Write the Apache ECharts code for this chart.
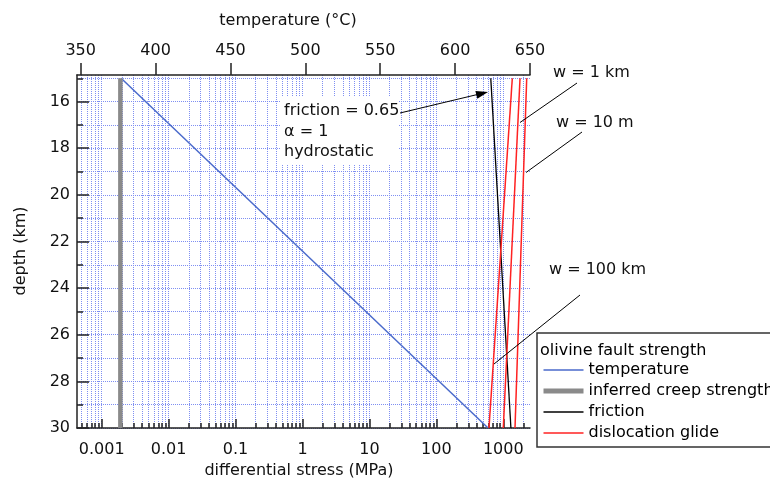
<!DOCTYPE html>
<html><head><meta charset="utf-8">
<script src="https://cdn.jsdelivr.net/npm/echarts@6/dist/echarts.min.js"></script>
<style>html,body{margin:0;padding:0;background:#fff}#c{width:770px;height:481px}</style>
</head><body><div id="c"></div>
<script>
// ---- data ----
const depthKm = [15, 30];
const temperatureC = [377, 622];
const creepStressMPa = [0.0019, 0.0019];
const frictionMPa = [650, 1300];
const glide100km = [1363, 611];
const glide1km = [1778, 1000];
const glide10m = [2238, 1496];

const stressMajorTicks = [0.001, 0.01, 0.1, 1, 10, 100, 1000];
const tempTicks = [350, 400, 450, 500, 550, 600, 650];
const depthLabels = [16, 18, 20, 22, 24, 26, 28, 30];
const depthTicks = [15, 16, 17, 18, 19, 20, 21, 22, 23, 24, 25, 26, 27, 28, 29, 30];
const stressMinorTicks = [];
for (let e = -4; e <= 3; e++) for (let m = 1; m <= 9; m++) stressMinorTicks.push(+(m * Math.pow(10, e)).toPrecision(3));

// ---- layout ----
const FONT = 'DejaVu Sans';
const GRID = {left: 77, right: 240, top: 75, bottom: 53};
const DEPTH_MIN = 14.858, DEPTH_MAX = 30;
const S_MIN = 4.275e-4, S_MAX = 2506;
const T_MIN = 347.53, T_MAX = 650;
const GRIDCOL = '#7f8ff2';
const AX = () => ({color: '#222', width: 1.5});
const BLUE = '#4a6acb', GRAY = '#8a8a8a', RED = '#ff2222';

const zip = (xs, ys) => xs.map((x, i) => [x, ys[i]]);
const fmtStress = v => String(+(+v).toPrecision(6));

const chart = echarts.init(document.getElementById('c'), null, {renderer: 'canvas'});
const txt = (text, x, y, extra) => Object.assign({
  type: 'text', x: x, y: y, z: 50,
  style: Object.assign({text: text, fontFamily: FONT, fontSize: 16, fill: '#111', textAlign: 'left', textVerticalAlign: 'middle'}, extra || {})
});
const seg = (x1, y1, x2, y2) => ({type: 'line', z: 50, shape: {x1, y1, x2, y2}, style: {stroke: '#000', lineWidth: 1}});

chart.setOption({
  animation: false,
  backgroundColor: '#fff',
  grid: [Object.assign({}, GRID), Object.assign({}, GRID)],
  xAxis: [
    {
      type: 'log', gridIndex: 0, position: 'bottom', min: S_MIN, max: S_MAX,
      axisLine: {show: false},
      axisTick: {show: false, customValues: stressMinorTicks, lineStyle: {color: GRIDCOL}},
      axisLabel: {show: false},
      splitLine: {show: true, lineStyle: {color: GRIDCOL, type: [1, 1], width: 1}}
    },
    {
      type: 'log', gridIndex: 0, position: 'bottom', min: S_MIN, max: S_MAX,
      axisLine: {show: true, lineStyle: AX()},
      axisTick: {show: true, inside: true, length: 9, customValues: stressMajorTicks, lineStyle: AX()},
      axisLabel: {show: true, customValues: stressMajorTicks, formatter: fmtStress, fontFamily: FONT, fontSize: 16, color: '#111', margin: 14},
      splitLine: {show: false}
    },
    {
      type: 'log', gridIndex: 0, position: 'bottom', min: S_MIN, max: S_MAX,
      axisLine: {show: false},
      axisTick: {show: true, inside: true, length: 5, customValues: stressMinorTicks, lineStyle: AX()},
      axisLabel: {show: false},
      splitLine: {show: false}
    },
    {
      type: 'value', gridIndex: 1, position: 'top', min: T_MIN, max: T_MAX,
      axisLine: {show: true, lineStyle: AX()},
      axisTick: {show: true, inside: false, length: 12, customValues: tempTicks, lineStyle: AX()},
      axisLabel: {show: true, customValues: tempTicks, fontFamily: FONT, fontSize: 16, color: '#111', margin: 16},
      splitLine: {show: false}
    }
  ],
  yAxis: [
    {
      type: 'value', gridIndex: 0, position: 'left', inverse: true, min: DEPTH_MIN, max: DEPTH_MAX,
      axisLine: {show: false},
      axisTick: {show: false, customValues: depthTicks, lineStyle: {color: GRIDCOL}},
      axisLabel: {show: false},
      splitLine: {show: true, lineStyle: {color: GRIDCOL, type: [1, 1], width: 1}}
    },
    {
      type: 'value', gridIndex: 0, position: 'left', inverse: true, min: DEPTH_MIN, max: DEPTH_MAX,
      axisLine: {show: true, lineStyle: AX()},
      axisTick: {show: true, inside: true, length: 12, customValues: depthLabels, lineStyle: AX()},
      axisLabel: {show: true, customValues: depthLabels, fontFamily: FONT, fontSize: 16, color: '#111', margin: 7},
      splitLine: {show: false}
    },
    {
      type: 'value', gridIndex: 0, position: 'left', inverse: true, min: DEPTH_MIN, max: DEPTH_MAX,
      axisLine: {show: false},
      axisTick: {show: true, inside: true, length: 6, customValues: depthTicks, lineStyle: AX()},
      axisLabel: {show: false},
      splitLine: {show: false}
    },
    {
      type: 'value', gridIndex: 1, inverse: true, min: DEPTH_MIN, max: DEPTH_MAX, show: false
    }
  ],
  legend: {
    data: [
      {name: 'temperature', lineStyle: {color: BLUE, width: 1.5}},
      {name: 'inferred creep strength', lineStyle: {color: GRAY, width: 5}},
      {name: 'friction', lineStyle: {color: '#000', width: 1.3}},
      {name: 'dislocation glide', lineStyle: {color: RED, width: 1.5}}
    ],
    orient: 'vertical', left: 537, top: 333,
    padding: [29, 10, 6, 4],
    itemWidth: 40, itemHeight: 14, itemGap: 5,
    itemStyle: {opacity: 0},
    textStyle: {fontFamily: FONT, fontSize: 16, color: '#000', lineHeight: 16},
    backgroundColor: '#fff', borderColor: '#333', borderWidth: 1.5, borderRadius: 0,
    selectedMode: false
  },
  series: [
    {name: 'temperature', type: 'line', xAxisIndex: 3, yAxisIndex: 3, symbol: 'none',
     data: zip(temperatureC, depthKm), color: BLUE, lineStyle: {color: BLUE, width: 1.5}},
    {name: 'inferred creep strength', type: 'line', xAxisIndex: 1, yAxisIndex: 1, symbol: 'none',
     data: zip(creepStressMPa, depthKm), color: GRAY, lineStyle: {color: GRAY, width: 4.5}},
    {name: 'friction', type: 'line', xAxisIndex: 1, yAxisIndex: 1, symbol: 'none',
     data: zip(frictionMPa, depthKm), color: '#000', lineStyle: {color: '#000', width: 1.3}},
    {name: 'dislocation glide', type: 'line', xAxisIndex: 1, yAxisIndex: 1, symbol: 'none',
     data: zip(glide100km, depthKm), color: RED, lineStyle: {color: RED, width: 1.5}},
    {name: 'dislocation glide', type: 'line', xAxisIndex: 1, yAxisIndex: 1, symbol: 'none',
     data: zip(glide1km, depthKm), color: RED, lineStyle: {color: RED, width: 1.5}},
    {name: 'dislocation glide', type: 'line', xAxisIndex: 1, yAxisIndex: 1, symbol: 'none',
     data: zip(glide10m, depthKm), color: RED, lineStyle: {color: RED, width: 1.5}}
  ],
  graphic: [
    txt('temperature (°C)', 288, 21, {textAlign: 'center'}),
    txt('differential stress (MPa)', 299, 470.5, {textAlign: 'center'}),
    Object.assign(txt('depth (km)', 21, 251, {textAlign: 'center'}), {rotation: Math.PI / 2}),
    {type: 'rect', z: 1, shape: {x: 280, y: 97, width: 118, height: 67}, style: {fill: '#fff'}},
    txt('friction = 0.65', 284, 110.7),
    txt('α = 1', 284, 131.7),
    txt('hydrostatic', 284, 151.7),
    seg(400, 113, 477, 94.6),
    {type: 'polygon', z: 50, shape: {points: [[488, 92], [477.3, 98.7], [475.4, 90.9]]}, style: {fill: '#000'}},
    txt('w = 1 km', 553, 72.7),
    seg(577, 83, 520, 122.5),
    txt('w = 10 m', 556, 122.7),
    seg(582, 132, 526, 172.5),
    txt('w = 100 km', 549, 270),
    seg(580, 295, 494, 364),
    Object.assign(txt('olivine fault strength', 540, 350.7, {fill: '#000'}), {z: 100})
  ]
});
</script></body></html>
